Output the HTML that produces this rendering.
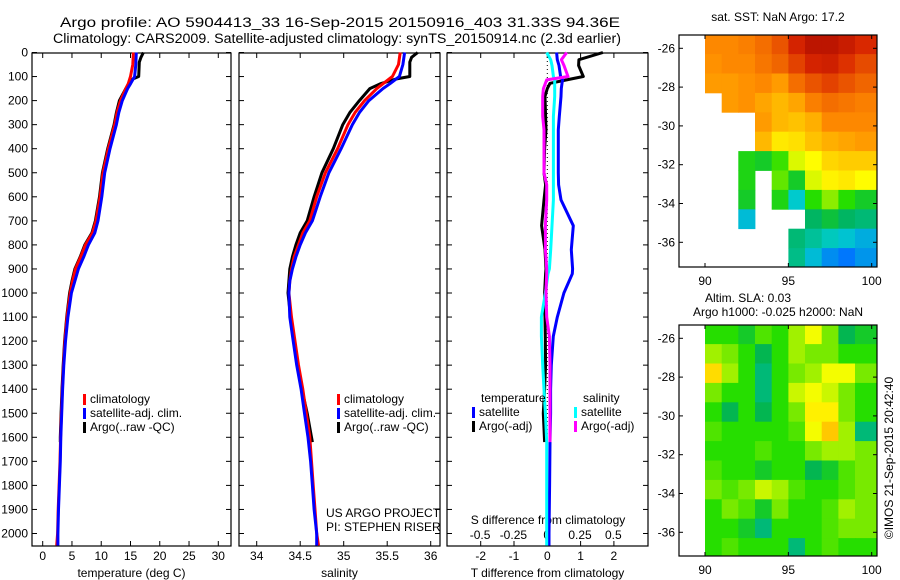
<!DOCTYPE html>
<html><head><meta charset="utf-8"><style>
html,body{margin:0;padding:0;background:#fff;}
svg{display:block;font-family:"Liberation Sans",Arial,sans-serif;}
</style></head><body>
<svg id="chart" width="900" height="580" viewBox="0 0 900 580" xmlns="http://www.w3.org/2000/svg">
<text x="60" y="27" font-size="13.5" textLength="560" lengthAdjust="spacingAndGlyphs">Argo profile: AO 5904413_33 16-Sep-2015 20150916_403 31.33S 94.36E</text>
<text x="53" y="43" font-size="13.5" textLength="568" lengthAdjust="spacingAndGlyphs">Climatology: CARS2009. Satellite-adjusted climatology: synTS_20150914.nc (2.3d earlier)</text>
<g id="p1"></g>
<g id="p2"></g>
<g id="p3"></g>
<g id="m1"></g>
<g id="m2"></g>
<text x="778" y="21" font-size="12" text-anchor="middle">sat. SST: NaN Argo: 17.2</text>
<text x="748" y="302" font-size="12" text-anchor="middle">Altim. SLA: 0.03</text>
<text x="778" y="316" font-size="12" text-anchor="middle">Argo h1000: -0.025 h2000: NaN</text>
<text transform="translate(893,458) rotate(-90)" font-size="12" text-anchor="middle">©IMOS 21-Sep-2015 20:42:40</text>
<text x="326" y="517" font-size="12">US ARGO PROJECT</text>
<text x="326" y="531" font-size="12">PI: STEPHEN RISER</text>
</svg>
<script>
// ---- data ----
const depthClim = [0,50,100,130,150,200,250,300,400,500,600,700,750,800,850,900,950,1000,1100,1200,1300,1400,1500,1600,1700,1800,1900,2000,2050];
const tempClim  = [15.5,15.4,15.0,14.6,14.2,13.3,12.7,12.3,11.2,10.3,9.8,9.1,8.5,7.3,6.5,5.6,5.1,4.7,4.15,3.8,3.55,3.35,3.2,3.05,2.95,2.8,2.65,2.55,2.4];
const tempSat   = [16.0,15.9,15.7,15.0,14.5,13.6,13.0,12.6,11.5,10.6,10.1,9.45,8.9,7.8,7.0,6.1,5.5,4.9,4.3,3.9,3.6,3.4,3.25,3.1,3.0,2.85,2.7,2.6,2.6];
const depthArgo = [0,20,40,100,110,130,150,200,250,300,400,500,600,700,750,800,850,900,950,1000,1100,1200,1300,1400,1500,1600,1620];
const tempArgo  = [17.2,16.8,16.5,16.4,15.4,14.7,14.2,13.1,12.6,12.2,11.1,10.2,9.7,9.0,8.4,7.2,6.4,5.5,5.0,4.6,4.1,3.75,3.5,3.3,3.15,3.0,3.0];
const salClim   = [35.65,35.63,35.56,35.45,35.38,35.24,35.13,35.05,34.93,34.79,34.69,34.61,34.53,34.48,34.43,34.40,34.38,34.37,34.40,34.44,34.48,34.53,34.57,34.61,34.63,34.65,34.67,34.69,34.71];
const salSat    = [35.70,35.68,35.64,35.53,35.45,35.29,35.18,35.10,34.97,34.83,34.73,34.64,34.56,34.50,34.45,34.41,34.38,34.37,34.38,34.42,34.46,34.51,34.55,34.59,34.62,34.64,34.66,34.69,34.69];
const salArgo   = [35.85,35.78,35.76,35.76,35.60,35.42,35.30,35.18,35.07,34.99,34.88,34.75,34.66,34.58,34.50,34.45,34.41,34.38,34.37,34.36,34.39,34.43,34.47,34.52,34.58,34.63,34.64];
const depthDiff = [0,30,54,100,114,128,150,183,266,322,400,500,550,613,720,820,900,920,1000,1100,1180,1300,1400,1500,1620,1800,2000,2050];
const dTsat     = [0.28,0.3,0.35,0.4,0.46,0.44,0.42,0.41,0.36,0.33,0.33,0.33,0.34,0.41,0.78,0.72,0.76,0.75,0.5,0.3,0.18,0.12,0.1,0.1,0.08,0.07,0.05,0.05];
const dTargo    = [1.67,0.95,0.94,1.08,0.58,0.08,0.0,-0.07,-0.05,-0.04,-0.08,-0.1,-0.05,-0.1,-0.17,-0.07,-0.04,-0.05,-0.08,-0.07,-0.06,-0.05,-0.08,-0.12,-0.08,null,null,null];
const dSsat     = [0.0,0.03,0.04,0.05,0.06,0.06,0.06,0.06,0.05,0.05,0.05,0.05,0.05,0.05,0.04,0.03,0.02,0.01,-0.01,-0.04,-0.04,-0.03,-0.02,-0.01,0.0,0.0,0.0,0.0];
const dSargo    = [0.15,0.11,0.13,0.16,0.0,-0.01,-0.025,-0.03,-0.03,-0.02,-0.02,-0.02,0.0,0.0,-0.01,-0.01,0.0,0.0,-0.005,0.0,0.02,0.025,0.025,0.025,0.025,null,null,null];
const depthTicks = [0,100,200,300,400,500,600,700,800,900,1000,1100,1200,1300,1400,1500,1600,1700,1800,1900,2000];
const tempTicks = [0,5,10,15,20,25,30];
const salTicks = [34,34.5,35,35.5,36];
const salTickLabels = ["34","34.5","35","35.5","36"];
const dTTicks = [-2,-1,0,1,2];
const dSTicks = [-0.5,-0.25,0,0.25,0.5];
const dSTickLabels = ["-0.5","-0.25","0","0.25","0.5"];
const lonTicks = [90,95,100];
const latTicks = [-26,-28,-30,-32,-34,-36];
const mapLons = [90,91,92,93,94,95,96,97,98,99];
const mapLatTops = [-25.3,-26.3,-27.3,-28.3,-29.3,-30.3,-31.3,-32.3,-33.3,-34.3,-35.3,-36.3];
const N = null;
const sstGrid = [
 [19.8,19.8,19.9,20.1,20.4,21.0,21.4,21.4,21.2,20.9],
 [19.7,19.8,19.8,20.0,20.2,20.6,21.0,21.1,20.8,20.5],
 [19.6,19.6,19.7,19.8,19.6,20.1,20.4,20.6,20.4,20.2],
 [N,19.6,19.7,19.5,19.3,19.5,19.9,20.1,20.0,19.9],
 [N,N,N,19.6,19.3,19.2,19.4,19.8,19.8,19.8],
 [N,N,N,19.3,18.8,18.9,19.2,19.4,19.5,19.6],
 [N,N,17.4,17.3,17.6,18.4,18.6,19.0,19.1,19.1],
 [N,N,17.4,N,17.8,17.3,18.4,18.7,18.8,18.6],
 [N,N,17.3,N,17.4,16.4,17.5,18.0,17.5,17.3],
 [N,N,16.2,N,N,N,17.0,17.2,17.0,16.9],
 [N,N,N,N,N,16.9,16.7,16.5,16.3,16.0],
 [N,N,N,N,N,16.8,16.2,15.6,15.3,15.7]];
const slaGrid = [
 [0,0,-0.01,0.01,0,0.03,0.05,0.02,-0.02,-0.01],
 [0.03,0.02,0,-0.02,0,0.03,0.02,0.02,0,0],
 [0.07,0.03,0,-0.03,0,0.02,0.03,0.05,0.05,0.02],
 [0.02,0,0,-0.03,0,0.04,0.05,0.04,0.02,0],
 [0,-0.02,0,-0.02,0,0.02,0.06,0.06,0.02,0],
 [0.01,0,0,0,0,0.01,0.05,0.08,0.03,-0.03],
 [0,0,0,0.01,0,0,0.02,0.03,0.03,0.02],
 [0.01,0,0,-0.01,0,0,-0.02,-0.01,0.01,0.02],
 [0.02,0.01,0.02,0.04,0.03,0.01,0,0,0.01,0.02],
 [0,0.02,0.01,-0.01,0.02,0,0,0.01,0.03,0.02],
 [0,0,-0.01,-0.03,0,0,0,0.01,0.02,0.02],
 [0,0.01,0,0,0,-0.03,0,0.01,0,0]];

// ---- helpers ----
const NS="http://www.w3.org/2000/svg";
function mk(tag,attrs,parent){const e=document.createElementNS(NS,tag);for(const k in attrs)e.setAttribute(k,attrs[k]);parent.appendChild(e);return e;}
const yD = d => 52.5 + d*0.2405;
const PT=53, PB=546;

function panel(g,x0,x1,xs,ticks,labels,title,name){
  const r=mk('rect',{x:x0,y:PT,width:x1-x0,height:PB-PT,fill:'none',stroke:'#000','stroke-width':1.2},g);
  
  
  depthTicks.forEach(d=>{
    mk('line',{x1:x0,x2:x0+5,y1:yD(d),y2:yD(d),stroke:'#000'},g);
    mk('line',{x1:x1-5,x2:x1,y1:yD(d),y2:yD(d),stroke:'#000'},g);
  });
  ticks.forEach((v,i)=>{
    const x=xs(v);
    mk('line',{x1:x,x2:x,y1:PB,y2:PB-5,stroke:'#000'},g);
    mk('line',{x1:x,x2:x,y1:PT,y2:PT+5,stroke:'#000'},g);
    const t=mk('text',{x:x,y:560,'font-size':12,'text-anchor':'middle'},g);
    t.textContent=labels[i];
    
    
  });
  const t=mk('text',{x:(x0+x1)/2,y:577,'font-size':12,'text-anchor':'middle'},g);
  t.textContent=title;
  
  
}
function line(g,xs,vals,depths,color,name){
  let p='';let started=false;
  vals.forEach((v,i)=>{if(v===null)return;p+=(started?'L':'M')+xs(v).toFixed(1)+','+yD(depths[i]).toFixed(1);started=true;});
  const e=mk('path',{d:p,fill:'none',stroke:color,'stroke-width':3,'stroke-linejoin':'round'},g);
  
  
}
function legend(g,x,y,color,label,name){
  mk('rect',{x:x,y:y-9,width:3,height:11,fill:color},g);
  const t=mk('text',{x:x+7,y:y,'font-size':12},g);
  t.textContent=label;
  
  
}

const svg=document.getElementById('chart');
depthTicks.forEach(d=>{
  const t=mk('text',{x:28,y:yD(d)+4,'font-size':12,'text-anchor':'end'},svg);
  t.textContent=String(d);
  
  
});

// panel 1
const g1=document.getElementById('p1');
const xT=v=>42.7+v*5.853;
panel(g1,32,231,xT,tempTicks,tempTicks.map(String),'temperature (deg C)','temperature');
line(g1,xT,tempArgo,depthArgo,'#000','temp-argo-line');
line(g1,xT,tempClim,depthClim,'#f00','temp-climatology-line');
line(g1,xT,tempSat,depthClim,'#00f','temp-satellite-line');
legend(g1,83,403,'#f00','climatology','legend-climatology');
legend(g1,83,417,'#00f','satellite-adj. clim.','legend-satellite');
legend(g1,83,431,'#000','Argo(..raw -QC)','legend-argo');

// panel 2
const g2=document.getElementById('p2');
const xS=v=>256.7+(v-34)*87;
panel(g2,239,440,xS,salTicks,salTickLabels,'salinity','salinity');
line(g2,xS,salArgo,depthArgo,'#000','sal-argo-line');
line(g2,xS,salClim,depthClim,'#f00','sal-climatology-line');
line(g2,xS,salSat,depthClim,'#00f','sal-satellite-line');
legend(g2,337,403,'#f00','climatology','legend-climatology-sal');
legend(g2,337,417,'#00f','satellite-adj. clim.','legend-satellite-sal');
legend(g2,337,431,'#000','Argo(..raw -QC)','legend-argo-sal');

// panel 3
const g3=document.getElementById('p3');
const xdT=v=>547.3+v*33.3;
const xdS=v=>546.7+v*133.3;
panel(g3,447,648,xdT,dTTicks,dTTicks.map(String),'T difference from climatology','t-diff');
mk('line',{x1:xdT(0),x2:xdT(0),y1:PT,y2:PB,stroke:'#000','stroke-dasharray':'1,3'},g3);
dSTicks.forEach((v,i)=>{
  const t=mk('text',{x:xdS(v),y:539,'font-size':12,'text-anchor':'middle'},g3);
  t.textContent=dSTickLabels[i];
  
  
});
const st=mk('text',{x:548,y:524,'font-size':12,'text-anchor':'middle'},g3);
st.textContent='S difference from climatology';


line(g3,xdT,dTargo,depthDiff,'#000','t-diff-argo-line');
line(g3,xdT,dTsat,depthDiff,'#00f','t-diff-satellite-line');
line(g3,xdS,dSsat,depthDiff,'#0ff','s-diff-satellite-line');
line(g3,xdS,dSargo,depthDiff,'#f0f','s-diff-argo-line');
const lt=mk('text',{x:481,y:402,'font-size':12},g3);lt.textContent='temperature';


const ls=mk('text',{x:583,y:402,'font-size':12},g3);ls.textContent='salinity';


legend(g3,472,416,'#00f','satellite','legend-t-satellite');
legend(g3,472,430,'#000','Argo(-adj)','legend-t-argo');
legend(g3,574,416,'#0ff','satellite','legend-s-satellite');
legend(g3,574,430,'#f0f','Argo(-adj)','legend-s-argo');

// maps
const stops=[[0,[0,0,0.6]],[0.12,[0,0,1]],[0.25,[0,0.45,1]],[0.38,[0,0.8,0.8]],[0.45,[0,0.7,0.35]],[0.5,[0.15,0.87,0]],[0.62,[1,1,0]],[0.75,[1,0.55,0]],[0.88,[0.85,0.15,0]],[1,[0.6,0,0]]];
function cmap(t){t=Math.max(0,Math.min(1,t));for(let i=1;i<stops.length;i++){if(t<=stops[i][0]){const a=stops[i-1],b=stops[i];const f=(t-a[0])/(b[0]-a[0]);const c=a[1].map((v,k)=>Math.round(255*(v+(b[1][k]-v)*f)));return 'rgb('+c.join(',')+')';}}return 'rgb(153,0,0)';}
function map(g,top,bot,grid,lo,hi,name){
  const L=679,R=877;
  const xL=v=>705+(v-90)*16.67;
  const yL=la=>top+13.3+(-26-la)*19.4;
  grid.forEach((row,i)=>row.forEach((v,j)=>{
    if(v===null)return;
    const x0=xL(mapLons[j]);const x1=Math.min(R,j===mapLons.length-1?R:xL(mapLons[j]+1));
    const y0=Math.max(top,yL(mapLatTops[i]));const y1=Math.min(bot,yL(mapLatTops[i]-1));
    const c=mk('rect',{x:x0.toFixed(1),y:y0.toFixed(1),width:(x1-x0+0.4).toFixed(1),height:(y1-y0+0.4).toFixed(1),fill:cmap((v-lo)/(hi-lo))},g);
    
    
  }));
  const f=mk('rect',{x:L,y:top,width:R-L,height:bot-top,fill:'none',stroke:'#000','stroke-width':1.2},g);
  
  
  latTicks.forEach(la=>{
    mk('line',{x1:L,x2:L+4,y1:yL(la),y2:yL(la),stroke:'#000'},g);
    mk('line',{x1:R-4,x2:R,y1:yL(la),y2:yL(la),stroke:'#000'},g);
    const t=mk('text',{x:L-4,y:yL(la)+4,'font-size':12,'text-anchor':'end'},g);
    t.textContent=String(la);
    
    
  });
  lonTicks.forEach(lo2=>{
    const x=xL(lo2);
    mk('line',{x1:x,x2:x,y1:bot,y2:bot-4,stroke:'#000'},g);
    mk('line',{x1:x,x2:x,y1:top,y2:top+4,stroke:'#000'},g);
    const t=mk('text',{x:x,y:bot+18,'font-size':12,'text-anchor':'middle'},g);
    t.textContent=String(lo2);
    
    
  });
}
map(document.getElementById('m1'),35,267,sstGrid,13,22,'sst-map');
map(document.getElementById('m2'),325,556,slaGrid,-0.22,0.22,'sla-map');
</script>
</body></html>
